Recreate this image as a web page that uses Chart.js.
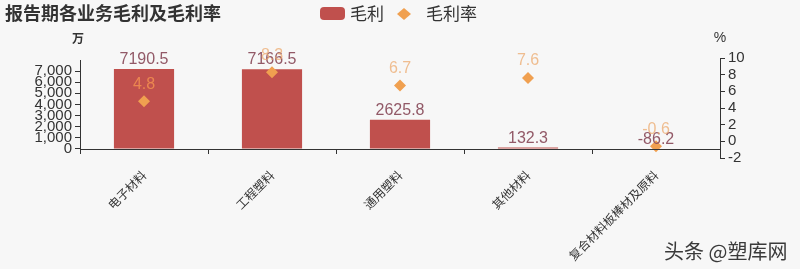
<!DOCTYPE html>
<html><head><meta charset="utf-8">
<script src="https://cdn.jsdelivr.net/npm/chart.js@4/dist/chart.umd.min.js"></script>
<style>html,body{margin:0;padding:0;background:#f7f7f7;}#wrap{width:800px;height:269px;position:relative;}</style>
</head><body><div id="wrap"><canvas id="c" width="800" height="269"></canvas></div>
<script>
const categories = ['电子材料','工程塑料','通用塑料','其他材料','复合材料板棒材及原料'];
const grossProfit = [7190.5, 7166.5, 2625.8, 132.3, -86.2];
const grossMargin = [4.8, 8.3, 6.7, 7.6, -0.6];
const leftTicks = [0,1000,2000,3000,4000,5000,6000,7000];
const rightTicks = [-2,0,2,4,6,8,10];
const titleText = '报告期各业务毛利及毛利率';
const seriesNames = ['毛利','毛利率'];
const watermark = '头条 @塑库网';

const BAR = '#c0504d', DIA = '#f0a050', AX = '#333';
const FONT = '"Liberation Sans", "Noto Sans CJK SC", sans-serif';

const deco = {
  id:'deco',
  beforeDraw(chart){
    const c = chart.ctx; c.save(); c.fillStyle='#f7f7f7'; c.fillRect(0,0,chart.width,chart.height); c.restore();
  },
  afterDatasetsDraw(chart){
    const c = chart.ctx, ca = chart.chartArea, y = chart.scales.y;
    c.save();
    const z = y.getPixelForValue(0);
    c.strokeStyle = AX; c.lineWidth = 1;
    c.beginPath(); c.moveTo(ca.left, Math.round(z)+0.5); c.lineTo(ca.right, Math.round(z)+0.5); c.stroke();
    for (let i=0;i<=categories.length;i++){
      const px = Math.round(ca.left + (ca.right-ca.left)*i/categories.length)+0.5;
      c.beginPath(); c.moveTo(px, Math.round(z)); c.lineTo(px, Math.round(z)+5); c.stroke();
    }
    c.beginPath(); c.moveTo(ca.left+0.5, ca.top+2); c.lineTo(ca.left+0.5, Math.round(z)+0.5); c.stroke();
    c.font = '16px ' + FONT; c.textAlign='center'; c.textBaseline='alphabetic';
    const m0 = chart.getDatasetMeta(0);
    m0.data.forEach((b,i)=>{
      const top = Math.min(b.y, b.base);
      c.fillStyle = 'rgba(140,80,95,0.95)';
      c.fillText(String(grossProfit[i]), b.x, top-5);
    });
    c.restore();
  },
  afterDraw(chart){
    const c = chart.ctx;
    c.save();
    c.font = '16px ' + FONT; c.textAlign='center'; c.textBaseline='middle';
    const m1 = chart.getDatasetMeta(1);
    m1.data.forEach((p,i)=>{
      c.fillStyle = i===0 ? 'rgba(240,140,80,0.9)' : 'rgba(236,170,110,0.75)';
      c.fillText(String(grossMargin[i]), p.x, p.y-17);
    });
    c.fillStyle = '#333'; c.font = 'bold 18px "Noto Sans CJK SC", sans-serif';
    c.textAlign='left'; c.textBaseline='middle';
    c.fillText(titleText, 5, 13);
    c.fillStyle = BAR;
    const rx=320, ry=7, rw=25, rh=13, rr=4;
    c.beginPath(); c.moveTo(rx+rr,ry); c.arcTo(rx+rw,ry,rx+rw,ry+rh,rr); c.arcTo(rx+rw,ry+rh,rx,ry+rh,rr); c.arcTo(rx,ry+rh,rx,ry,rr); c.arcTo(rx,ry,rx+rw,ry,rr); c.closePath(); c.fill();
    c.fillStyle = '#333'; c.font = '17px "Noto Sans CJK SC", sans-serif';
    c.fillText(seriesNames[0], 350, 14);
    c.fillStyle = DIA;
    c.beginPath(); c.moveTo(397,14); c.lineTo(404,8); c.lineTo(411,14); c.lineTo(404,20); c.closePath(); c.fill();
    c.fillStyle = '#333';
    c.fillText(seriesNames[1], 426, 14);
    c.font = 'bold 12px "Noto Sans CJK SC", sans-serif'; c.textAlign='center';
    c.fillText('万', 78, 38);
    c.font = '14px ' + FONT;
    c.fillText('%', 720, 38);
    c.font = '20px "Noto Sans CJK SC", sans-serif'; c.textAlign='left'; c.fillStyle='#3a3a3a';
    c.fillText(watermark, 664, 251);
    c.restore();
  }
};

new Chart(document.getElementById('c'), {
  data: {
    labels: categories,
    datasets: [
      { type:'bar', label:seriesNames[0], data:grossProfit, backgroundColor:BAR, yAxisID:'y',
        barPercentage:0.47, categoryPercentage:1, order:2 },
      { type:'line', label:seriesNames[1], data:grossMargin, yAxisID:'y1', showLine:false,
        pointStyle:'rectRot', pointRadius:6, pointHoverRadius:6, backgroundColor:DIA, borderColor:DIA, borderWidth:0, order:1 }
    ]
  },
  options: {
    responsive:false, animation:false, devicePixelRatio:1,
    layout:{ padding:{ top:58, left:0, right:0, bottom:0 } },
    plugins:{ legend:{display:false}, title:{display:false}, tooltip:{enabled:false} },
    scales:{
      x:{ offset:true, grid:{display:false}, border:{display:false},
          ticks:{ color:'#333', font:{size:12, family:'"Noto Sans CJK SC", sans-serif'}, minRotation:45, maxRotation:45, padding:2, autoSkip:false },
          afterFit(s){ s.height = 111; } },
      y:{ position:'left', min:-810, max:8170,
          afterBuildTicks(s){ s.ticks = leftTicks.map(v=>({value:v})); },
          ticks:{ color:'#333', font:{size:15, family:FONT}, padding:3, autoSkip:false,
                  callback:(v)=>v.toLocaleString('en-US') },
          grid:{ drawOnChartArea:false, tickLength:5, color:AX },
          border:{ display:false },
          afterFit(s){ s.width = 80; } },
      y1:{ position:'right', min:-2, max:10,
           afterBuildTicks(s){ s.ticks = rightTicks.map(v=>({value:v})); },
           ticks:{ color:'#333', font:{size:15, family:FONT}, padding:3, autoSkip:false },
           grid:{ drawOnChartArea:false, tickLength:5, color:AX },
           border:{ display:true, color:AX },
           afterFit(s){ s.width = 80; } }
    }
  },
  plugins:[deco]
});
</script></body></html>
